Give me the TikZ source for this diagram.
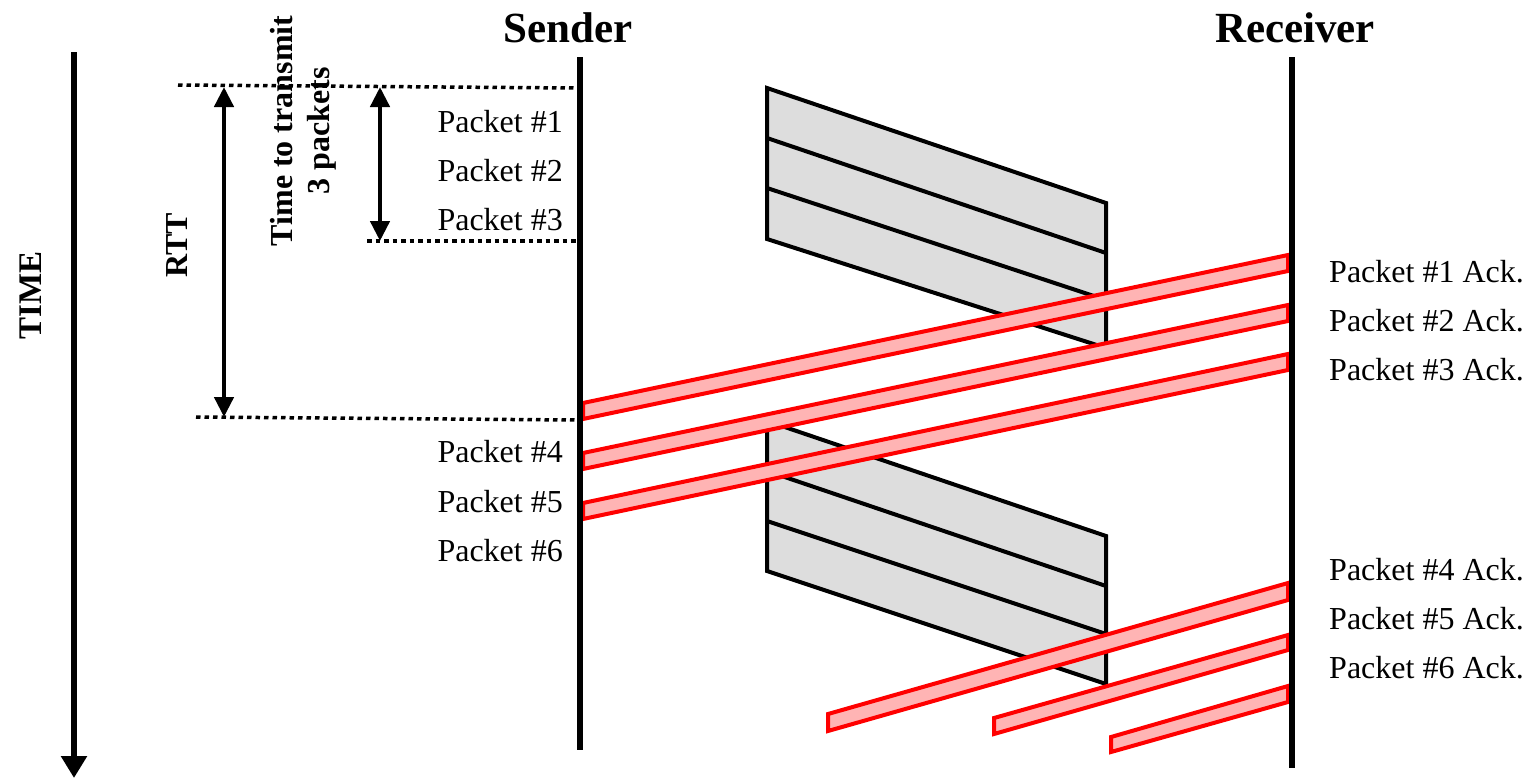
\documentclass[tikz,border=0pt]{standalone}
\usepackage{fontspec}
\setmainfont{Liberation Serif}
\usetikzlibrary{arrows.meta}

\definecolor{pktgray}{HTML}{DDDDDD}
\definecolor{ackfill}{HTML}{FFB4B4}

\tikzset{
  lifeline/.style={line width=6.5pt},
  dotline/.style={line width=3.5pt, dash pattern=on 4.5pt off 4pt},
  dimarrow/.style={line width=4.5pt, {Triangle[width=19pt,length=20pt]}-{Triangle[width=19pt,length=20pt]}},
  timearrow/.style={line width=6.5pt, -{Triangle[width=25pt,length=22pt]}},
  pktband/.style={fill=pktgray, draw=black, line width=4pt, line join=miter},
  pktsep/.style={draw=black, line width=4pt},
  ackbar/.style={fill=ackfill, draw=red, line width=4pt, line join=miter},
  title/.style={font=\fontsize{43}{50}\selectfont\bfseries, inner sep=0pt, anchor=base},
  lbl/.style={font=\fontsize{32}{37}\selectfont, inner sep=0pt},
  vlabel/.style={font=\fontsize{32}{37}\selectfont\bfseries, inner sep=0pt, rotate=90, align=center}
}

\begin{document}
\begin{tikzpicture}[x=1pt, y=-1pt]
\useasboundingbox (0,0) rectangle (1531,780);

% time axis
\coordinate (tTop) at (74,52);
\coordinate (tBot) at (74,778);
\draw[timearrow] (tTop) -- (tBot);
\node[vlabel, font=\fontsize{33}{38}\selectfont\bfseries] (timeLbl) at (31,295) {TIME};

% packets in flight from sender to receiver (first window)
\path[pktband] (767,88) -- (1106,203) -- (1106,348) -- (767,239) -- cycle;
\draw[pktsep] (767,138) -- (1106,253);
\draw[pktsep] (767,188) -- (1106,300);
% second window
\path[pktband] (767,421) -- (1106,536) -- (1106,684) -- (767,571) -- cycle;
\draw[pktsep] (767,471) -- (1106,586);
\draw[pktsep] (767,521) -- (1106,634);

% acknowledgements travelling back
\path[ackbar] (583,403) -- (1288,255) -- (1288,271) -- (583,419) -- cycle;
\path[ackbar] (583,453) -- (1288,305) -- (1288,321) -- (583,469) -- cycle;
\path[ackbar] (583,503) -- (1288,354) -- (1288,370) -- (583,519) -- cycle;
\path[ackbar] (828,714) -- (1288,583) -- (1288,600) -- (828,731) -- cycle;
\path[ackbar] (994,718) -- (1288,635) -- (1288,650) -- (994,734) -- cycle;
\path[ackbar] (1111,737) -- (1288,686) -- (1288,702) -- (1111,752) -- cycle;

% lifelines
\node[title] (sender) at (568,42) {Sender};
\node[title] (receiver) at (1295,42) {Receiver};
\coordinate (sTop) at (580,57);
\coordinate (sBot) at (580,750);
\coordinate (rTop) at (1292,57);
\coordinate (rBot) at (1292,768);
\draw[lifeline] (sTop) -- (sBot);
\draw[lifeline] (rTop) -- (rBot);

% reference levels
\coordinate (d1L) at (178,85);
\coordinate (d1R) at (577,88);
\coordinate (d2L) at (367,241);
\coordinate (d2R) at (577,241);
\coordinate (d3L) at (196,417);
\coordinate (d3R) at (577,420);
\draw[dotline] (d1L) -- (d1R);
\draw[dotline] (d2L) -- (d2R);
\draw[dotline] (d3L) -- (d3R);

% dimension arrows
\coordinate (rttA) at (224,87);
\coordinate (rttB) at (224,417);
\coordinate (txA) at (380,87);
\coordinate (txB) at (380,241);
\draw[dimarrow] (rttA) -- (rttB);
\draw[dimarrow] (txA) -- (txB);
\node[vlabel] (rttLbl) at (177,245) {RTT};
\node[vlabel] (txLbl) at (303,131) {Time to transmit\\3 packets};

% packet labels at the sender
\node[lbl, anchor=base east] (p1) at (563,132) {Packet \#1};
\node[lbl, anchor=base east] (p2) at (563,181) {Packet \#2};
\node[lbl, anchor=base east] (p3) at (563,230) {Packet \#3};
\node[lbl, anchor=base east] (p4) at (563,462) {Packet \#4};
\node[lbl, anchor=base east] (p5) at (563,512) {Packet \#5};
\node[lbl, anchor=base east] (p6) at (563,561) {Packet \#6};

% acknowledgement labels at the receiver
\node[lbl, anchor=base west] (a1) at (1329,282) {Packet \#1 Ack.};
\node[lbl, anchor=base west] (a2) at (1329,331) {Packet \#2 Ack.};
\node[lbl, anchor=base west] (a3) at (1329,380) {Packet \#3 Ack.};
\node[lbl, anchor=base west] (a4) at (1329,580) {Packet \#4 Ack.};
\node[lbl, anchor=base west] (a5) at (1329,629) {Packet \#5 Ack.};
\node[lbl, anchor=base west] (a6) at (1329,678) {Packet \#6 Ack.};
\end{tikzpicture}
\end{document}
